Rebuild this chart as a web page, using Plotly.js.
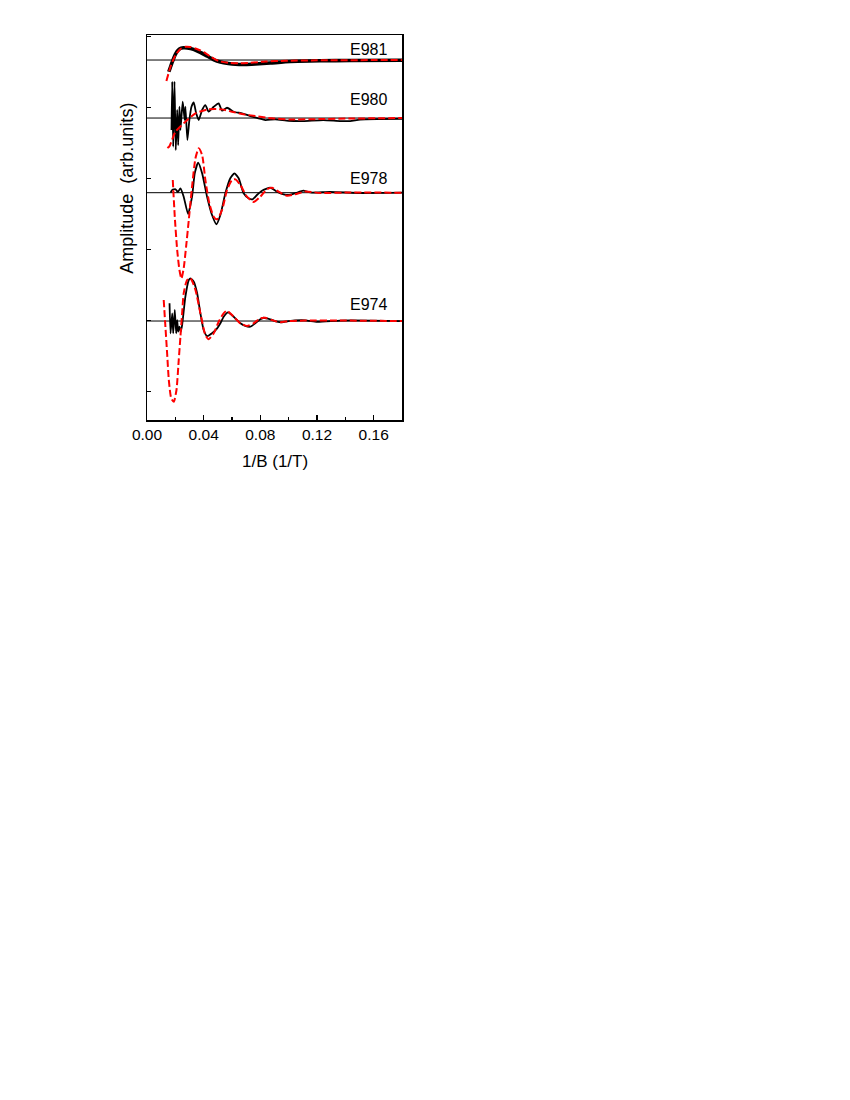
<!DOCTYPE html>
<html>
<head>
<meta charset="utf-8">
<script src="https://cdn.plot.ly/plotly-3.0.1.min.js"></script>
<style>html,body{margin:0;padding:0;background:#fff;}#chart{width:850px;height:1100px;}</style>
</head>
<body>
<div id="chart"></div>
<script>
// Sample names and vertical offsets (baselines)
const samples = ["E981", "E980", "E978", "E974"];
const offsets = [4.665, 3.849, 2.799, 0.994];

// E981 measured data and fit (amplitude relative to baseline)
const e981DataX = [0.0154,0.0173,0.0201,0.0229,0.0257,0.0307,0.0356,0.0412,0.0469,0.0518,0.0574,0.0624,0.0694,0.0764,0.0870,0.1011,0.1222,0.1434,0.1800];
const e981DataY = [-0.165,-0.056,0.084,0.155,0.173,0.162,0.127,0.070,0.007,-0.028,-0.049,-0.060,-0.063,-0.056,-0.042,-0.021,-0.011,-0.007,-0.004];
const e981FitX = [0.0137,0.0166,0.0201,0.0236,0.0271,0.0306,0.0342,0.0377,0.0412,0.0447,0.0483,0.0518,0.0588,0.0659,0.0729,0.0835,0.0976,0.1200,0.1800];
const e981FitY = [-0.295,-0.094,0.070,0.155,0.186,0.183,0.162,0.134,0.098,0.049,0.007,-0.021,-0.042,-0.046,-0.039,-0.021,-0.011,-0.004,0.000];

// E980
const e980DataX = [0.0173,0.0178,0.0185,0.0194,0.0203,0.0213,0.0220,0.0229,0.0236,0.0252,0.0266,0.0271,0.0285,0.0299,0.0314,0.0330,0.0347,0.0365,0.0389,0.0412,0.0435,0.0471,0.0506,0.0530,0.0565,0.0612,0.0671,0.0729,0.0788,0.0835,0.0905,0.0999,0.1103,0.1244,0.1363,0.1434,0.1504,0.1645,0.1800];
const e980DataY = [-0.169,0.511,-0.404,0.511,-0.450,0.113,-0.380,0.159,-0.169,0.229,-0.028,0.159,-0.309,-0.028,0.159,0.221,0.066,-0.028,0.113,0.183,0.089,0.159,0.207,0.103,0.145,0.089,0.066,0.028,-0.004,-0.028,-0.018,-0.038,-0.042,-0.028,-0.042,-0.042,-0.021,-0.014,-0.010];
const e980FitX = [0.0144,0.0159,0.0201,0.0271,0.0342,0.0433,0.0530,0.0600,0.0671,0.0764,0.0882,0.1011,0.1222,0.1434,0.1800];
const e980FitY = [-0.422,-0.394,-0.193,-0.052,0.066,0.122,0.122,0.089,0.056,0.028,-0.004,-0.021,-0.014,-0.007,0.000];

// E978
const e978DataX = [0.0166,0.0178,0.0201,0.0218,0.0236,0.0259,0.0290,0.0318,0.0337,0.0361,0.0389,0.0424,0.0459,0.0490,0.0518,0.0553,0.0588,0.0617,0.0647,0.0682,0.0717,0.0745,0.0776,0.0812,0.0870,0.0917,0.0964,0.0999,0.1046,0.1103,0.1152,0.1293,0.1504,0.1800];
const e978DataY = [0.000,0.038,0.048,0.010,0.062,-0.056,-0.300,-0.056,0.273,0.422,0.273,-0.056,-0.314,-0.444,-0.314,-0.008,0.203,0.273,0.203,-0.008,-0.079,-0.093,-0.032,0.028,0.070,0.014,-0.023,-0.032,-0.008,0.028,0.003,0.010,-0.004,0.000];
const e978FitX = [0.0182,0.0196,0.0213,0.0229,0.0243,0.0259,0.0276,0.0295,0.0318,0.0342,0.0365,0.0389,0.0412,0.0440,0.0471,0.0495,0.0530,0.0565,0.0600,0.0624,0.0659,0.0706,0.0752,0.0800,0.0847,0.0882,0.0929,0.0988,0.1046,0.1117,0.1222,0.1434,0.1800];
const e978FitY = [0.179,-0.338,-0.806,-1.087,-1.207,-1.063,-0.759,-0.384,0.084,0.484,0.624,0.530,0.179,-0.149,-0.338,-0.374,-0.243,0.038,0.179,0.188,0.108,-0.056,-0.131,-0.056,0.048,0.070,0.014,-0.042,-0.023,0.017,-0.004,0.003,0.000];

// E974
const e974DataX = [0.0159,0.0166,0.0178,0.0185,0.0196,0.0206,0.0213,0.0220,0.0229,0.0238,0.0248,0.0271,0.0295,0.0307,0.0330,0.0354,0.0377,0.0400,0.0424,0.0459,0.0495,0.0518,0.0541,0.0572,0.0612,0.0659,0.0694,0.0729,0.0764,0.0800,0.0823,0.0870,0.0917,0.0953,0.0999,0.1117,0.1201,0.1363,0.1575,0.1800];
const e974DataY = [0.249,-0.173,0.108,-0.173,0.155,-0.173,0.014,-0.150,-0.080,-0.150,-0.056,0.342,0.577,0.601,0.553,0.390,0.108,-0.127,-0.211,-0.173,-0.103,-0.032,0.060,0.122,0.060,-0.032,-0.070,-0.080,-0.032,0.024,0.046,0.024,-0.010,-0.018,0.000,0.010,-0.010,0.007,0.007,0.000];
const e974FitX = [0.0118,0.0130,0.0142,0.0154,0.0171,0.0189,0.0208,0.0224,0.0236,0.0248,0.0259,0.0283,0.0307,0.0342,0.0377,0.0412,0.0435,0.0471,0.0506,0.0541,0.0565,0.0612,0.0659,0.0706,0.0752,0.0800,0.0835,0.0882,0.0941,0.0999,0.1117,0.1363,0.1800];
const e974FitY = [0.295,-0.080,-0.454,-0.830,-1.087,-1.135,-0.970,-0.549,-0.221,0.108,0.389,0.577,0.601,0.436,0.108,-0.197,-0.257,-0.173,-0.010,0.108,0.145,0.060,-0.032,-0.070,-0.032,0.038,0.046,0.014,-0.018,0.000,0.007,0.007,0.000];

// Label positions
const labelX = 0.171;
const labelY = [4.820, 4.114, 2.992, 1.226];

// Axis ticks
const xTickVals = [0, 0.04, 0.08, 0.12, 0.16];
const xTickText = ["0.00", "0.04", "0.08", "0.12", "0.16"];

const dataX = [e981DataX, e980DataX, e978DataX, e974DataX];
const dataY = [e981DataY, e980DataY, e978DataY, e974DataY];
const fitX = [e981FitX, e980FitX, e978FitX, e974FitX];
const fitY = [e981FitY, e980FitY, e978FitY, e974FitY];
const dataWidths = [3.6, 1.8, 1.8, 1.8];

const FONT = "Arial, 'Liberation Sans', sans-serif";
const traces = [];
// baselines
samples.forEach((s, i) => {
  traces.push({x: [0, 0.18], y: [offsets[i], offsets[i]], mode: "lines",
    line: {color: "#000", width: 1}, hoverinfo: "skip", showlegend: false});
});
// measured data
samples.forEach((s, i) => {
  traces.push({x: dataX[i], y: dataY[i].map(v => v + offsets[i]), mode: "lines", name: s + " data",
    line: {color: "#000", width: dataWidths[i], shape: "spline", smoothing: 0.5}, showlegend: false});
});
// fits
samples.forEach((s, i) => {
  traces.push({x: fitX[i], y: fitY[i].map(v => v + offsets[i]), mode: "lines", name: s + " fit",
    line: {color: "rgb(255,0,0)", width: 2, dash: "7px,3px", shape: "spline", smoothing: 0.6}, showlegend: false});
});

const annotations = samples.map((s, i) => ({
  x: labelX, y: labelY[i], xref: "x", yref: "y", text: s, showarrow: false,
  xanchor: "right", yanchor: "middle", font: {family: FONT, size: 16, color: "#000"}
}));
annotations.push({x: -0.0796, y: 0.6026, xref: "paper", yref: "paper", text: "Amplitude  (arb.units)",
  showarrow: false, textangle: -90, xanchor: "center", yanchor: "middle",
  font: {family: FONT, size: 18, color: "#000"}});
annotations.push({x: 0.5, y: -0.108, xref: "paper", yref: "paper", text: "1/B (1/T)",
  showarrow: false, xanchor: "center", yanchor: "middle",
  font: {family: FONT, size: 17, color: "#000"}});

const layout = {
  width: 850, height: 1100,
  margin: {l: 147, r: 448, t: 35, b: 680},
  paper_bgcolor: "#fff", plot_bgcolor: "#fff",
  showlegend: false,
  font: {family: FONT, color: "#000"},
  xaxis: {
    range: [0, 0.18], tickvals: xTickVals, ticktext: xTickText,
    ticks: "inside", ticklen: 5, tickwidth: 1.2, tickcolor: "#000",
    minor: {dtick: 0.02, tick0: 0, ticks: "inside", ticklen: 3, tickwidth: 1.2, tickcolor: "#000"},
    showline: true, linecolor: "#000", linewidth: 1.5, mirror: true,
    showgrid: false, zeroline: false,
    tickfont: {family: FONT, size: 15.5, color: "#000"}
  },
  yaxis: {
    range: [-0.398, 5.017], tick0: 0, dtick: 1,
    ticks: "inside", ticklen: 4, tickwidth: 1.2, tickcolor: "#000",
    showticklabels: false,
    showline: true, linecolor: "#000", linewidth: 1.5, mirror: true,
    showgrid: false, zeroline: false
  },
  annotations: annotations
};

Plotly.newPlot("chart", traces, layout, {displayModeBar: false, staticPlot: true});
</script>
</body>
</html>
